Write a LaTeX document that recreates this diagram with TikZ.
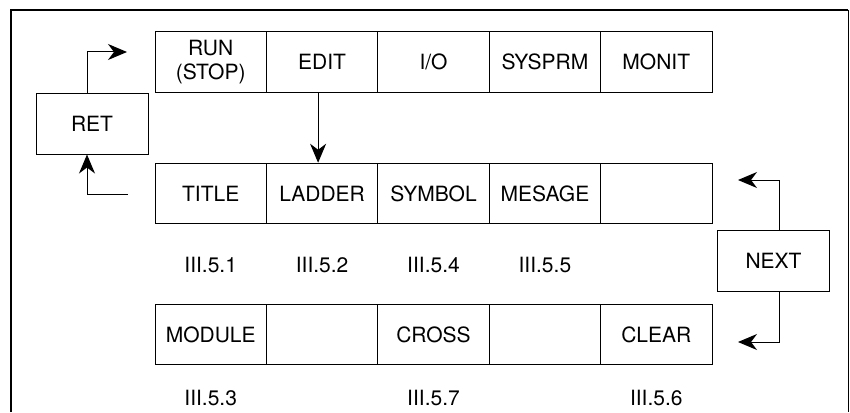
\documentclass[tikz,border=0pt]{standalone}
\usepackage{fontspec}
\setmainfont{TeX Gyre Heros}
\usetikzlibrary{arrows.meta,calc}
\begin{document}
\begin{tikzpicture}[x=1pt,y=-1pt,
  cell/.style={draw,line width=1pt,minimum width=111.4pt,minimum height=60.5pt,inner sep=0pt,align=center,font=\fontsize{21}{24.5}\selectfont},
  sidebox/.style={draw,line width=1pt,minimum width=112pt,minimum height=61pt,inner sep=0pt,font=\fontsize{21}{24.5}\selectfont},
  lbl/.style={inner sep=0pt,font=\fontsize{21}{24.5}\selectfont},
  conn/.style={line width=1pt,-{Stealth[length=19pt,width=16pt,inset=6pt]}}]
\useasboundingbox (0,0) rectangle (850,412);
% outer frame
\draw[line width=2.4pt] (11,412) -- (11,10) -- (848,10);
\draw[line width=1pt] (848,10) -- (848,412);
% row 1
\node[cell] (run)    at (210.7,62) {RUN\\(STOP)};
\node[cell] (edit)   at (322.1,62) {EDIT};
\node[cell] (io)     at (433.5,62) {I/O};
\node[cell] (sysprm) at (544.9,62) {SYSPRM};
\node[cell] (monit)  at (656.3,62) {MONIT};
% row 2
\node[cell] (title)  at (210.7,193.5) {TITLE};
\node[cell] (ladder) at (322.1,193.5) {LADDER};
\node[cell] (symbol) at (433.5,193.5) {SYMBOL};
\node[cell] (mesage) at (544.9,193.5) {MESAGE};
\node[cell] (blankA) at (656.3,193.5) {};
% labels row 2
\node[lbl] (l1) at (210.7,265) {III.5.1};
\node[lbl] (l2) at (322.1,265) {III.5.2};
\node[lbl] (l4) at (433.5,265) {III.5.4};
\node[lbl] (l5) at (544.9,265) {III.5.5};
% row 3
\node[cell] (module) at (210.7,334.5) {MODULE};
\node[cell] (blankB) at (322.1,334.5) {};
\node[cell] (cross)  at (433.5,334.5) {CROSS};
\node[cell] (blankC) at (544.9,334.5) {};
\node[cell] (clear)  at (656.3,334.5) {CLEAR};
% labels row 3
\node[lbl] (l3) at (210.7,398) {III.5.3};
\node[lbl] (l7) at (433.5,398) {III.5.7};
\node[lbl] (l6) at (656.3,398) {III.5.6};
% side boxes
\node[sidebox] (ret)  at (92,123.5) {RET};
\node[sidebox] (next) at (773.5,260.5) {NEXT};
% free ends
\coordinate (retout) at (127,52);
\coordinate (retin)  at (128,194);
\coordinate (nextup) at (738,180);
\coordinate (nextdn) at (738,342);
% connectors
\draw[conn] ([xshift=-5pt]ret.north) |- (retout);
\draw[conn] (retin) -| ([xshift=-5pt]ret.south);
\draw[conn] ([xshift=-4pt]edit.south) -- ([xshift=-4pt]ladder.north);
\draw[conn] ([xshift=5.5pt]next.north) |- (nextup);
\draw[conn] ([xshift=5.5pt]next.south) |- (nextdn);
\end{tikzpicture}
\end{document}
